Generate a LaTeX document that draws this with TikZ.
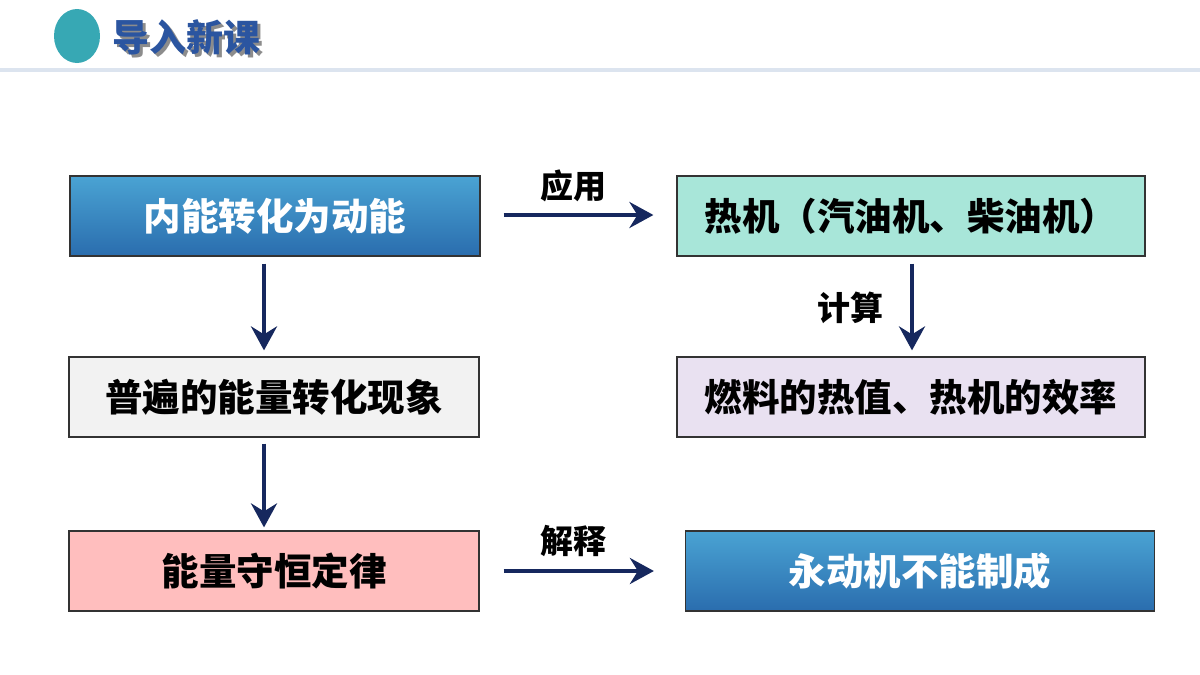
\documentclass[tikz,border=0pt]{standalone}
\usepackage{fontspec}
\newfontfamily\cjk{Noto Sans CJK SC}
\usetikzlibrary{arrows.meta,positioning}
\definecolor{navy}{HTML}{16285E}
\definecolor{boxblueT}{HTML}{4AA3D3}
\definecolor{boxblueB}{HTML}{2A6DAE}
\definecolor{teal1}{HTML}{A8E6D9}
\definecolor{grey1}{HTML}{F2F2F2}
\definecolor{lav}{HTML}{E9E1F1}
\definecolor{pink1}{HTML}{FFBEBE}
\definecolor{circ}{HTML}{37A8B4}
\definecolor{titleblue}{HTML}{2B55A0}
\definecolor{rule}{HTML}{DCE4EF}
\tikzset{
  box/.style={draw=black!80, line width=1.2pt, minimum width=410pt, minimum height=80pt, inner sep=0pt,
     font=\cjk\bfseries\fontsize{37.5}{40}\selectfont},
  bluebox/.style={box, top color=boxblueT, bottom color=boxblueB, text=white},
  arr/.style={draw=navy, line width=4pt, -{Stealth[length=24pt,width=26pt,inset=8pt]}},
  lab/.style={font=\cjk\bfseries\fontsize{33}{36}\selectfont, inner sep=0pt}
}
\newcommand{\shadowtext}[1]{\rlap{\hspace{3pt}\raisebox{-3pt}{\textcolor{black!45}{#1}}}#1}
\begin{document}
\begin{tikzpicture}[x=1pt,y=-1pt]
\useasboundingbox (0,0) rectangle (1200,675);
% header
\fill[circ] (77,36) ellipse [x radius=23, y radius=27];
\node[font=\cjk\bfseries\fontsize{37}{40}\selectfont, text=titleblue, anchor=west, inner sep=0pt] (title) at (112,39) {\shadowtext{导入新课}};
\fill[rule] (0,68) rectangle (1200,72);
% boxes
\node[bluebox] (A) at (275,216) {内能转化为动能};
\node[box, fill=teal1, minimum width=468pt] (B) at (911,216) {热机（汽油机、柴油机）};
\node[box, fill=grey1] (C) at (274,397) {普遍的能量转化现象};
\node[box, fill=lav, minimum width=468pt] (D) at (911,397) {燃料的热值、热机的效率};
\node[box, fill=pink1] (E) at (274,571) {能量守恒定律};
\node[bluebox, minimum width=469pt] (F) at (920,571) {永动机不能制成};
% arrows
\draw[arr] ([xshift=-11pt,yshift=-7pt]A.south) -- ([xshift=-10pt,yshift=6pt]C.north);
\draw[arr] ([xshift=-10pt,yshift=-6pt]C.south) -- ([xshift=-10pt,yshift=3pt]E.north);
\draw[arr] ([xshift=23pt,yshift=1pt]A.east) -- ([xshift=-23pt,yshift=1pt]B.west);
\draw[arr] ([xshift=1pt,yshift=-7pt]B.south) -- ([xshift=1pt,yshift=6pt]D.north);
\draw[arr] ([xshift=24pt]E.east) -- ([xshift=-31pt]F.west);
% labels
\node[lab] (l1) at (573,186) {应用};
\node[lab] (l2) at (850,308) {计算};
\node[lab] (l3) at (573,541) {解释};
\end{tikzpicture}
\end{document}
